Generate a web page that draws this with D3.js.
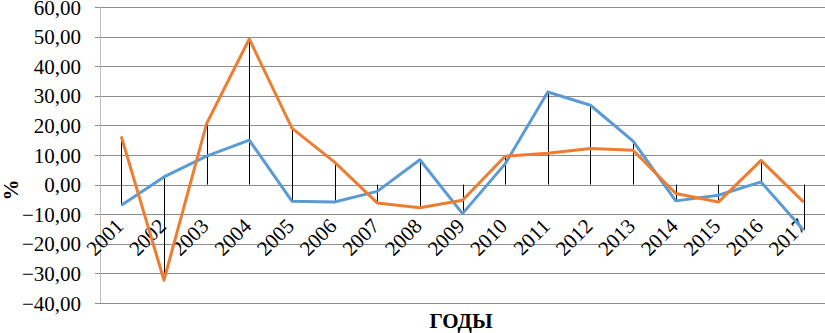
<!DOCTYPE html>
<html><head><meta charset="utf-8">
<script src="https://cdn.jsdelivr.net/npm/d3@7"></script>
<style>body{margin:0;background:#fff}svg{display:block}</style>
</head><body><svg id="c" width="825" height="333"></svg>
<script>
const years = ["2001","2002","2003","2004","2005","2006","2007","2008","2009","2010","2011","2012","2013","2014","2015","2016","2017"];
const seriesBlue = [-7.0, 2.6, 9.6, 15.0, -5.6, -5.9, -2.3, 8.4, -9.8, 7.0, 31.3, 26.8, 14.7, -5.5, -3.6, 0.9, -15.4];
const seriesOrange = [16.2, -32.3, 20.6, 49.2, 19.1, 7.6, -6.2, -7.8, -5.3, 9.6, 10.6, 12.2, 11.6, -3.0, -5.9, 8.2, -5.9];
const yTicks = [-40,-30,-20,-10,0,10,20,30,40,50,60];
const yTitle = "%";
const xTitle = "ГОДЫ";

const svg = d3.select("#c");
const pLeft = 100, pRight = 825, pTop = 7, pBottom = 303;
const x = d3.scaleBand().domain(years).range([pLeft, pRight]);
const y = d3.scaleLinear().domain([-40, 60]).range([pBottom, pTop]);
const fmt = v => d3.format(".2f")(v).replace(".", ",");
const font = "Liberation Serif, Times New Roman, serif";

// gridlines
svg.append("g").selectAll("line").data(yTicks).join("line")
  .attr("x1", pLeft - 5).attr("x2", pRight)
  .attr("y1", d => Math.round(y(d)) + 0.5).attr("y2", d => Math.round(y(d)) + 0.5)
  .attr("stroke", "#8c8c8c").attr("stroke-width", 1);
// vertical axis line
svg.append("line").attr("x1", pLeft + 0.5).attr("x2", pLeft + 0.5)
  .attr("y1", pTop).attr("y2", pBottom).attr("stroke", "#bfbfbf");

// y labels
svg.append("g").selectAll("text").data(yTicks).join("text")
  .attr("x", 81).attr("y", d => y(d)).attr("dy", "0.36em")
  .attr("text-anchor", "end").style("font-family", font).attr("font-size", 21)
  .text(fmt);

// drop lines
svg.append("g").selectAll("line").data(years).join("line")
  .attr("x1", d => Math.round(x(d) + x.bandwidth()/2) + 0.5)
  .attr("x2", d => Math.round(x(d) + x.bandwidth()/2) + 0.5)
  .attr("y1", (d,i) => y(Math.max(0, seriesBlue[i], seriesOrange[i])))
  .attr("y2", (d,i) => y(Math.min(0, seriesBlue[i], seriesOrange[i])))
  .attr("stroke", "#000").attr("stroke-width", 1);

// x labels
svg.append("g").selectAll("text").data(years).join("text")
  .attr("transform", d => `translate(${x(d) + x.bandwidth()/2 - 7},${217}) rotate(-45)`)
  .attr("text-anchor", "end").style("font-family", font).attr("font-size", 21)
  .attr("dy", "0.7em")
  .text(d => d);

const line = d3.line().x((d,i) => x(years[i]) + x.bandwidth()/2).y(d => y(d));
svg.append("path").datum(seriesBlue).attr("d", line)
  .attr("fill", "none").attr("stroke", "#5B9BD5").attr("stroke-width", 3).attr("stroke-linejoin", "round");
svg.append("path").datum(seriesOrange).attr("d", line)
  .attr("fill", "none").attr("stroke", "#ED7D31").attr("stroke-width", 3).attr("stroke-linejoin", "round");

// titles
svg.append("text").attr("transform", "translate(18,190) rotate(-90)")
  .attr("text-anchor", "middle").style("font-family", font).attr("font-size", 21)
  .attr("font-weight", "bold").text(yTitle);
svg.append("text").attr("x", 461).attr("y", 328)
  .attr("text-anchor", "middle").style("font-family", font).attr("font-size", 21)
  .attr("font-weight", "bold").text(xTitle);
</script></body></html>
